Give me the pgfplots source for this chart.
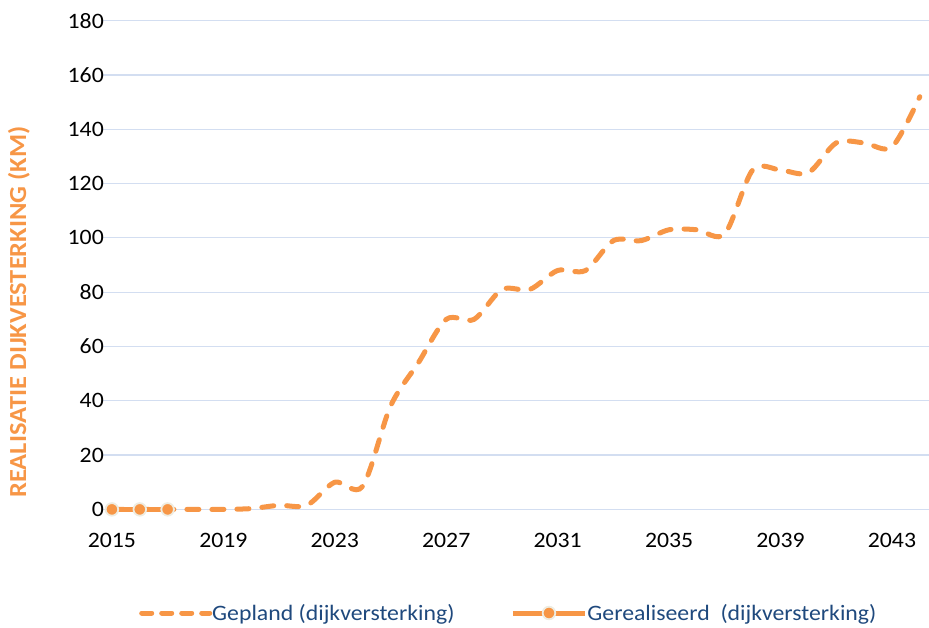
\documentclass[border=0pt]{standalone}
\usepackage{fontspec}
\setmainfont[FakeStretch=1.08]{Carlito}
\usepackage{pgfplots}
\pgfplotsset{compat=1.18}
\definecolor{oranje}{HTML}{F79646}
\definecolor{raster}{HTML}{D3DEF1}
\definecolor{legtekst}{HTML}{1F497D}
\definecolor{rand}{HTML}{EEECE1}
\pgfplotsset{
  leg gepland/.style={legend image code/.code={\draw[##1, dash pattern=on 10pt off 10pt] (2pt,0pt) -- (70pt,0pt);}},
  leg gerealiseerd/.style={legend image code/.code={\draw[##1, mark repeat=2, mark phase=2]
    plot coordinates {(2pt,0pt) (38pt,0pt) (74pt,0pt)};}},
}

\begin{document}
\begin{tikzpicture}
\begin{axis}[
  scale only axis,
  width=826pt,
  height=488.7pt,
  xmin=2014.68, xmax=2044.33,
  ymin=0, ymax=180,
  xtick={2015,2019,...,2043},
  ytick={0,20,...,180},
  axis line style={draw=none},
  major tick length=0pt,
  ymajorgrids=true,
  grid style={raster, line width=1.2pt},
  clip=false,
  /pgf/number format/assume math mode=true,
  x tick label style={/pgf/number format/1000 sep={}},
  tick label style={font=\fontsize{22}{22}\selectfont, text=black},
  xticklabel style={anchor=north, inner sep=0pt, yshift=-23.6pt},
  yticklabel style={anchor=east, inner sep=0pt, xshift=1pt},
  ylabel={REALISATIE DIJKVESTERKING (KM)},
  ylabel style={font=\bfseries\fontsize{24.5}{24.5}\selectfont, text=oranje,
    at={(axis description cs:-0.1017,0.404)}, anchor=center},
  legend columns=2,
  legend style={draw=none, fill=none, at={(0.49,-0.212)}, anchor=center,
    font=\fontsize{22}{22}\selectfont, text=legtekst,
    nodes={inner sep=0pt},
    /tikz/every odd column/.append style={column sep=0pt},
    /tikz/every even column/.append style={column sep=56pt}},
]
% gepland
\addplot[oranje, line width=5pt, smooth, line cap=round,
  dash pattern=on 12pt off 13pt, leg gepland]
  coordinates {
  (2015,0) (2016,0) (2017,0) (2018,0) (2019,0) (2020,0.3)
  (2021,1.5) (2022,1.5) (2023,10) (2024,8.5) (2025,38) (2026,54)
  (2027,70) (2028,70) (2029,81) (2030,81) (2031,88) (2032,88)
  (2033,99) (2034,99) (2035,103) (2036,103) (2037,101.5) (2038,125)
  (2039,125) (2040,124) (2041,135) (2042,135) (2043,133.5) (2044,152)
  };
\addlegendentry{Gepland (dijkversterking)}
% gerealiseerd
\addplot[oranje, line width=5pt, mark=*, mark size=6.3pt,
  mark options={fill=oranje, draw=rand, line width=1.8pt, solid},
  leg gerealiseerd]
  coordinates {(2015,0) (2016,0) (2017,0)};
\addlegendentry{Gerealiseerd\ \ (dijkversterking)}
\end{axis}
\pgfresetboundingbox
\path[use as bounding box] (current axis.south west) ++(-103pt,-118.6pt) rectangle ++(929pt,628pt);
\end{tikzpicture}
\end{document}
